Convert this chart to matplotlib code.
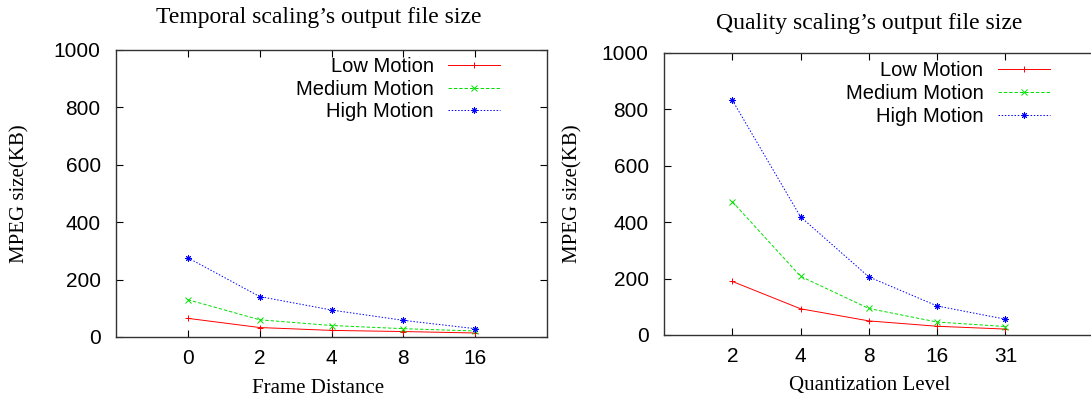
import matplotlib
matplotlib.use("Agg")
import matplotlib.pyplot as plt

# Temporal scaling (left)
frame_distance = ["0", "2", "4", "8", "16"]
temporal_low = [65, 33, 23, 19, 14]
temporal_medium = [130, 60, 40, 29, 21]
temporal_high = [276, 141, 94, 58, 29]

# Quality scaling (right)
quant_level = ["2", "4", "8", "16", "31"]
quality_low = [190, 93, 50, 31, 21]
quality_medium = [473, 208, 94, 46, 30]
quality_high = [833, 419, 206, 103, 56]

series_names = ["Low Motion", "Medium Motion", "High Motion"]

SANS = "Liberation Sans"
SERIF = "Liberation Serif"

styles = [
    dict(color="#ff0000", marker="+", linestyle="-"),
    dict(color="#00e000", marker="x", dashes=(3.5, 2.0)),
    dict(color="#0000ff", marker=(8, 2, 0), dashes=(1.5, 1.8)),
]


def draw(ax, cats, series, xlim, xlabel, xlabel_x, ylabel_x, leg_anchor):
    x = range(len(cats))
    for vals, name, st in zip(series, series_names, styles):
        ax.plot(x, vals, label=name, linewidth=0.7, markersize=4.5,
                markeredgewidth=0.7, **st)
    ax.set_xlim(*xlim)
    ax.set_ylim(0, 1000)
    ax.set_xticks(list(x))
    ax.set_xticklabels(cats)
    ax.set_yticks(range(0, 1001, 200))
    ax.tick_params(direction="in", length=5, width=0.8, top=True, right=True,
                   labelsize=15)
    ax.tick_params(axis="y", pad=11)
    ax.tick_params(axis="x", pad=9)
    for lab in ax.get_xticklabels() + ax.get_yticklabels():
        lab.set_fontfamily(SANS)
    for sp in ax.spines.values():
        sp.set_linewidth(1.0)
        sp.set_color("#333333")

    ax.set_xlabel(xlabel, fontfamily=SERIF, fontsize=15)
    ax.xaxis.set_label_coords(xlabel_x, -0.145)
    ax.set_ylabel("MPEG size(KB)", fontfamily=SERIF, fontsize=15)
    ax.yaxis.set_label_coords(ylabel_x, 0.5)

    leg = ax.legend(loc="upper right", bbox_to_anchor=leg_anchor,
                    frameon=False, markerfirst=False, numpoints=1,
                    handlelength=2.6, handletextpad=0.7, labelspacing=0.18,
                    borderpad=0, borderaxespad=0,
                    prop={"family": SANS, "size": 14.5})
    return leg


fig = plt.figure(figsize=(10.91, 4.03), dpi=100)

ax1 = fig.add_axes([116 / 1091, 66 / 403, 431 / 1091, 287 / 403])
draw(ax1, frame_distance, [temporal_low, temporal_medium, temporal_high],
     (-1, 5), "Frame Distance", 0.469, -0.2, (0.891, 0.975))

ax2 = fig.add_axes([664 / 1091, 68 / 403, 437 / 1091, 282 / 403])
draw(ax2, quant_level, [quality_low, quality_medium, quality_high],
     (-1, 5.4), "Quantization Level", 0.471, -0.186, (0.883, 0.97))

fig.text(319 / 1091, 1 - 18 / 403, "Temporal scaling\u2019s output file size",
         ha="center", va="center", fontfamily=SERIF, fontsize=17)
fig.text(869 / 1091, 1 - 23 / 403, "Quality scaling\u2019s output file size",
         ha="center", va="center", fontfamily=SERIF, fontsize=17)

fig.savefig("out.png", dpi=100)
